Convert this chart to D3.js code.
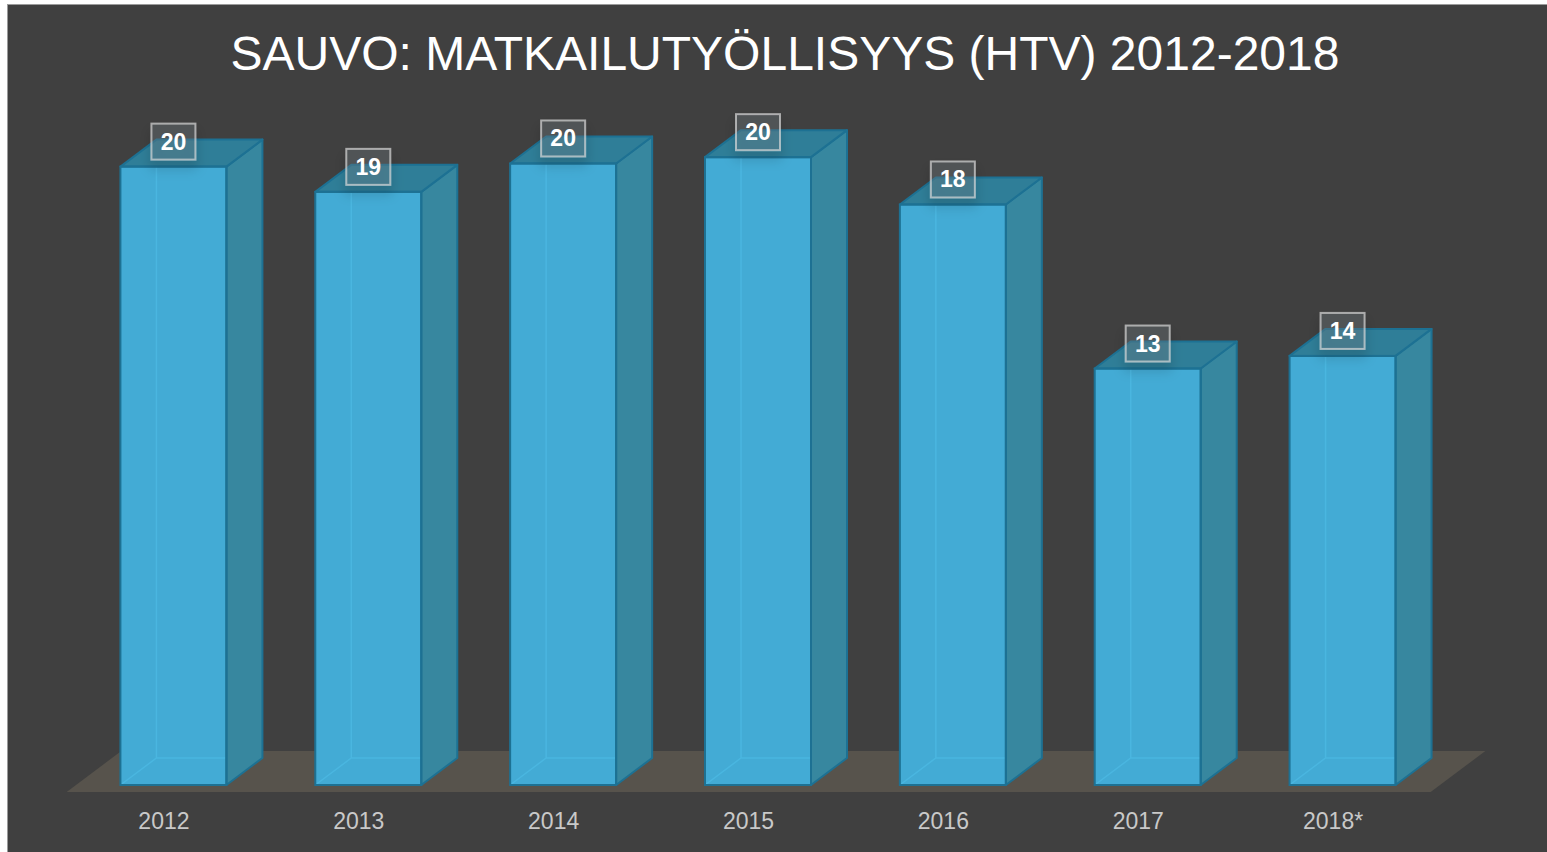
<!DOCTYPE html>
<html>
<head>
<meta charset="utf-8">
<script src="https://cdn.jsdelivr.net/npm/d3@7"></script>
<style>
  html, body { margin: 0; padding: 0; background: #fff; }
  svg { display: block; font-family: "Liberation Sans", Arial, sans-serif; }
</style>
</head>
<body>
<svg id="chart" width="1547" height="852"></svg>
<script>
// data
const years = ['2012', '2013', '2014', '2015', '2016', '2017', '2018*'];
const htv = [19.6, 18.8, 19.7, 19.9, 18.4, 13.2, 13.6];
const title = 'SAUVO: MATKAILUTYÖLLISYYS (HTV) 2012-2018';

const W = 1547, H = 852;
const depth = {dx: 36, dy: 27};   // bar depth in projection
const floorDepth = {front: 7, back: 34};

const svg = d3.select('#chart');

// panel background
svg.append('rect')
  .attr('x', 7.5).attr('y', 4.5)
  .attr('width', W - 7).attr('height', H - 4)
  .attr('fill', '#404040')
  .attr('stroke', '#9b9b9b')
  .attr('stroke-width', 1);

svg.append('text')
  .attr('x', 785).attr('y', 70)
  .attr('text-anchor', 'middle')
  .attr('fill', '#ffffff')
  .attr('font-size', '48px')
  .text(title);

const x = d3.scaleBand()
  .domain(years)
  .range([76, 1440])
  .paddingInner(0.456)
  .paddingOuter(0.228);

const y = d3.scaleLinear()
  .domain([0, 20])
  .range([785, 154]);

const bw = x.bandwidth();
const base = y(0);

const defs = svg.append('defs');
const shadow = defs.append('filter').attr('id', 'lblShadow')
  .attr('x', '-50%').attr('y', '-50%').attr('width', '200%').attr('height', '220%');
shadow.append('feDropShadow')
  .attr('dx', 0).attr('dy', 8).attr('stdDeviation', 6)
  .attr('flood-color', '#000').attr('flood-opacity', 0.35);

// floor
const k = depth.dy / depth.dx;
const fx0 = x.range()[0], fx1 = x.range()[1];
const fFront = floorDepth.front, fBack = floorDepth.back;
svg.append('polygon')
  .attr('points', [
    [fx0 - fFront / k, base + fFront],
    [fx1 - fFront / k, base + fFront],
    [fx1 + fBack / k, base - fBack],
    [fx0 + fBack / k, base - fBack]
  ].map(p => p.join(',')).join(' '))
  .attr('fill', '#57534c');

const pts = arr => arr.map(p => p.join(',')).join(' ');
const edge = '#1d7193';

const bars = svg.append('g').selectAll('g.bar')
  .data(years.map((yr, i) => ({yr, v: htv[i]})))
  .join('g').attr('class', 'bar');

bars.each(function(d) {
  const g = d3.select(this);
  const x0 = x(d.yr), x1 = x0 + bw, yt = y(d.v);
  const {dx, dy} = depth;

  // front face
  g.append('rect')
    .attr('x', x0).attr('y', yt)
    .attr('width', bw).attr('height', base - yt)
    .attr('fill', '#43abd5');

  // edges seen through the face
  g.append('path')
    .attr('d', `M${x0},${base}L${x0 + dx},${base - dy}L${x1 + dx},${base - dy}` +
      `M${x0 + dx},${base - dy}L${x0 + dx},${yt}`)
    .attr('fill', 'none')
    .attr('stroke', '#4ab6e0')
    .attr('stroke-width', 1.5);

  // right side
  g.append('polygon')
    .attr('points', pts([[x1, base], [x1 + dx, base - dy], [x1 + dx, yt - dy], [x1, yt]]))
    .attr('fill', '#37879f')
    .attr('stroke', edge).attr('stroke-width', 2).attr('stroke-linejoin', 'round');

  // top
  g.append('polygon')
    .attr('points', pts([[x0, yt], [x0 + dx, yt - dy], [x1 + dx, yt - dy], [x1, yt]]))
    .attr('fill', '#2f7e98')
    .attr('stroke', edge).attr('stroke-width', 2).attr('stroke-linejoin', 'round');

  // front outline
  g.append('rect')
    .attr('x', x0).attr('y', yt)
    .attr('width', bw).attr('height', base - yt)
    .attr('fill', 'none')
    .attr('stroke', edge).attr('stroke-width', 2);
});

// value labels
const fmt = d3.format('.0f');
const lbl = bars.append('g')
  .attr('transform', d => `translate(${x(d.yr) + bw / 2},${y(d.v) - 7})`);
lbl.append('rect')
  .attr('x', -22).attr('y', -36)
  .attr('width', 44).attr('height', 36)
  .attr('fill', 'rgba(120,130,135,0.3)')
  .attr('stroke', 'rgba(215,215,215,0.7)')
  .attr('stroke-width', 2)
  .attr('filter', 'url(#lblShadow)');
lbl.append('text')
  .attr('y', -10)
  .attr('text-anchor', 'middle')
  .attr('fill', '#ffffff')
  .attr('font-size', '23px')
  .attr('font-weight', 'bold')
  .text(d => fmt(d.v));

// category axis
const axis = svg.append('g')
  .attr('transform', 'translate(-9.5,800)')
  .call(d3.axisBottom(x).tickSize(0).tickPadding(13));
axis.select('.domain').remove();
axis.selectAll('text')
  .attr('fill', '#c9c9c9')
  .attr('font-size', '23px')
  .attr('font-family', '"Liberation Sans", Arial, sans-serif');
</script>
</body>
</html>
